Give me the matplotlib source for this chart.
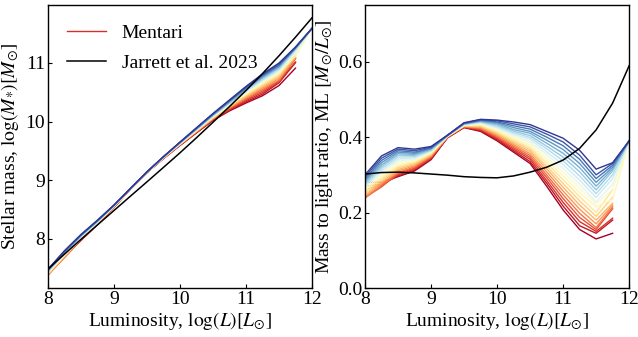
import numpy as np
import matplotlib
matplotlib.use("Agg")
import matplotlib.pyplot as plt
from matplotlib.lines import Line2D

plt.rcParams['font.family'] = ['Liberation Serif', 'DejaVu Serif']
plt.rcParams['mathtext.fontset'] = 'stix'

# luminosity grid, log(L)
log_l = [8.0, 8.25, 8.5, 8.75, 9.0, 9.25, 9.5, 9.75, 10.0, 10.25, 10.5,
         10.75, 11.0, 11.25, 11.5, 11.75, 12.0]

# Mentari mass-to-light ratios: one row per luminosity bin, 20 models (red -> blue)
nan = np.nan
ml_columns = [
    [0.280, 0.270, 0.262, 0.240, 0.238, 0.242, 0.246, 0.250, 0.254, 0.258, 0.262, 0.266, 0.270, 0.274, 0.278, 0.282, 0.286, 0.290, 0.295, 0.300],
    [0.280, 0.275, 0.272, 0.268, 0.272, 0.276, 0.280, 0.285, 0.290, 0.295, 0.300, 0.306, 0.311, 0.316, 0.321, 0.326, 0.332, 0.338, 0.344, 0.350],
    [0.295, 0.297, 0.300, 0.303, 0.306, 0.310, 0.314, 0.318, 0.322, 0.327, 0.332, 0.337, 0.342, 0.347, 0.352, 0.356, 0.360, 0.364, 0.368, 0.372],
    [0.310, 0.312, 0.315, 0.318, 0.321, 0.324, 0.327, 0.330, 0.333, 0.336, 0.339, 0.342, 0.345, 0.348, 0.351, 0.354, 0.357, 0.360, 0.364, 0.368],
    [0.340, 0.342, 0.344, 0.346, 0.348, 0.350, 0.352, 0.354, 0.356, 0.358, 0.360, 0.362, 0.363, 0.365, 0.366, 0.368, 0.370, 0.371, 0.373, 0.375],
    [0.398, 0.399, 0.399, 0.400, 0.400, 0.401, 0.401, 0.402, 0.402, 0.402, 0.403, 0.403, 0.403, 0.404, 0.404, 0.404, 0.404, 0.405, 0.405, 0.405],
    [0.425, 0.426, 0.426, 0.427, 0.428, 0.428, 0.429, 0.430, 0.430, 0.431, 0.432, 0.432, 0.433, 0.434, 0.434, 0.435, 0.436, 0.436, 0.437, 0.438],
    [0.415, 0.417, 0.419, 0.421, 0.423, 0.425, 0.427, 0.429, 0.431, 0.433, 0.435, 0.437, 0.438, 0.440, 0.441, 0.442, 0.443, 0.445, 0.446, 0.447],
    [0.390, 0.393, 0.396, 0.399, 0.402, 0.405, 0.408, 0.411, 0.414, 0.417, 0.420, 0.423, 0.426, 0.429, 0.432, 0.435, 0.438, 0.440, 0.443, 0.445],
    [0.360, 0.364, 0.368, 0.372, 0.376, 0.380, 0.384, 0.388, 0.392, 0.396, 0.400, 0.404, 0.408, 0.412, 0.416, 0.420, 0.425, 0.430, 0.435, 0.440],
    [0.330, 0.335, 0.341, 0.346, 0.351, 0.356, 0.362, 0.367, 0.372, 0.378, 0.383, 0.388, 0.394, 0.399, 0.404, 0.410, 0.415, 0.421, 0.427, 0.433],
    [0.270, 0.278, 0.285, 0.293, 0.300, 0.308, 0.316, 0.323, 0.331, 0.338, 0.346, 0.354, 0.361, 0.369, 0.376, 0.384, 0.392, 0.400, 0.408, 0.415],
    [0.207, 0.217, 0.227, 0.237, 0.247, 0.257, 0.267, 0.277, 0.287, 0.297, 0.307, 0.317, 0.327, 0.337, 0.347, 0.357, 0.367, 0.377, 0.387, 0.397],
    [0.155, 0.165, 0.176, 0.187, 0.198, 0.209, 0.220, 0.231, 0.242, 0.253, 0.264, 0.275, 0.286, 0.297, 0.308, 0.319, 0.330, 0.341, 0.352, 0.365],
    [0.130, 0.145, 0.150, 0.155, 0.160, 0.170, 0.180, 0.190, 0.200, 0.215, 0.222, 0.228, 0.240, 0.250, 0.260, 0.270, 0.280, 0.290, 0.300, 0.315],
    [0.145, 0.180, 0.185, 0.210, 0.215, 0.220, 0.225, 0.240, 0.260, 0.235, 0.262, 0.275, 0.290, 0.300, 0.310, 0.315, 0.320, 0.325, 0.330, 0.332],
    [nan, nan, nan, nan, nan, nan, nan, nan, nan, 0.388, 0.388, 0.389, 0.389, 0.389, 0.390, 0.390, 0.390, 0.390, 0.390, 0.390],
]

# Jarrett et al. 2023 relation
jarrett_log_l = [8.0, 8.25, 8.5, 8.75, 9.0, 9.25, 9.5, 9.75, 10.0, 10.25, 10.5,
                 10.75, 11.0, 11.25, 11.5, 11.75, 12.0]
jarrett_ml = [0.302, 0.306, 0.307, 0.305, 0.302, 0.299, 0.295, 0.293, 0.292,
              0.297, 0.307, 0.320, 0.339, 0.370, 0.419, 0.490, 0.589]

legend_labels = ["Mentari", "Jarrett et al. 2023"]

x = np.array(log_l)
ml = np.array(ml_columns).T  # (models, luminosity bins)
n_models = ml.shape[0]
colors = plt.cm.RdYlBu(np.linspace(0, 1, n_models))

fig = plt.figure(figsize=(6.38, 3.37), dpi=100)
ax1 = fig.add_axes([0.0752, 0.1454, 0.4138, 0.8398])
ax2 = fig.add_axes([0.5721, 0.1454, 0.4140, 0.8398])

jx = np.array(jarrett_log_l)
jml = np.array(jarrett_ml)

for i in range(n_models):
    ax1.plot(x, x + np.log10(ml[i]), color=colors[i], lw=1.0)
    ax2.plot(x, ml[i], color=colors[i], lw=1.0)
ax1.plot(jx, jx + np.log10(jml), color='black', lw=1.1, zorder=5)
ax2.plot(jx, jml, color='black', lw=1.1, zorder=5)

fs = 14
ax1.set_xlim(8, 12)
ax1.set_xticks([8, 9, 10, 11, 12])
ax1.set_yticks([8, 9, 10, 11])
ax1.set_xlabel(r"Luminosity, $\log(L)[L_{\odot}]$", fontsize=fs, labelpad=2)
ax1.set_ylabel(r"Stellar mass, $\log(M_{*})[M_{\odot}]$", fontsize=fs, labelpad=3)

ax2.set_xlim(8, 12)
ax2.set_ylim(0, 0.75)
ax2.set_xticks([8, 9, 10, 11, 12])
ax2.set_yticks([0.0, 0.2, 0.4, 0.6])
ax2.set_xlabel(r"Luminosity, $\log(L)[L_{\odot}]$", fontsize=fs, labelpad=2)
ax2.set_ylabel(r"Mass to light ratio, ML $[M_{\odot}/L_{\odot}]$", fontsize=fs, labelpad=2)

for ax in (ax1, ax2):
    ax.tick_params(direction='in', length=3, labelsize=fs, pad=2)
    for s in ax.spines.values():
        s.set_linewidth(1.0)

handles = [Line2D([], [], color='#d7302a', lw=1.0),
           Line2D([], [], color='black', lw=1.1)]
ax1.legend(handles, legend_labels, loc='upper left', frameon=False,
           fontsize=fs, handlelength=2.0, borderaxespad=0.6, labelspacing=0.65)

fig.savefig("out.png", dpi=100)
